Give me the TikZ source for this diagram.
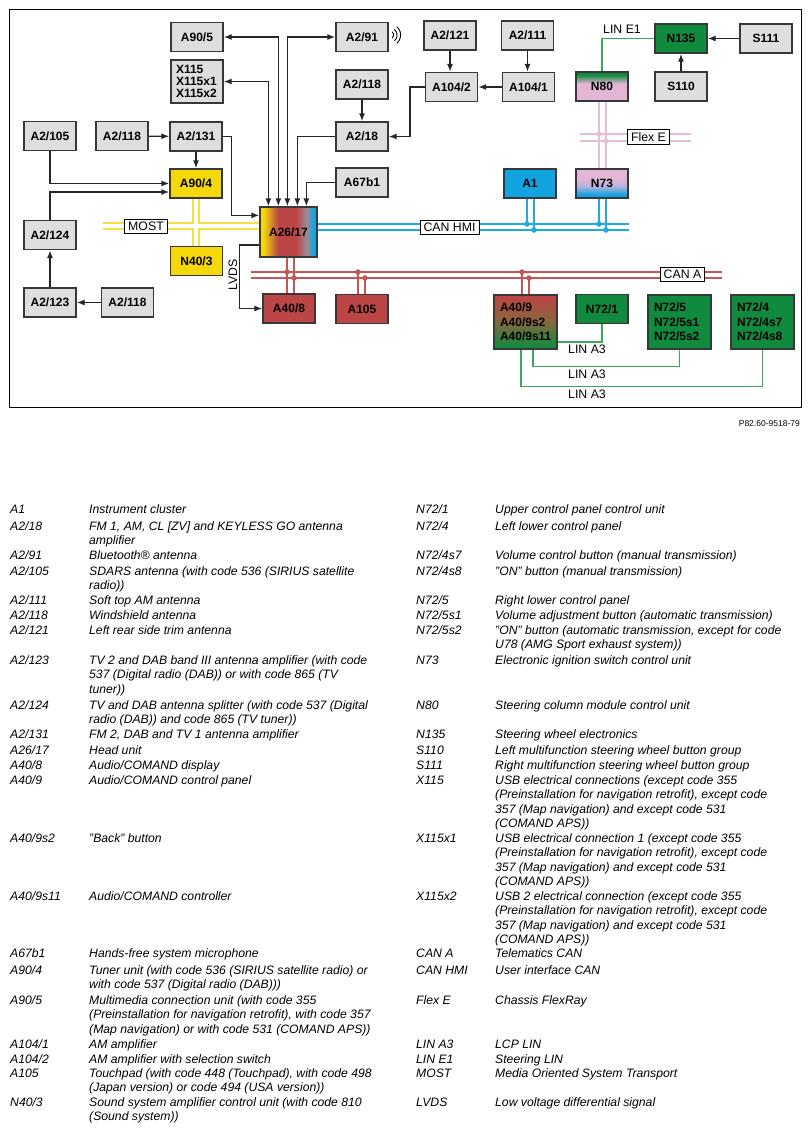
\documentclass[tikz,border=0pt]{standalone}
\usepackage{fontspec}
\setmainfont{Liberation Sans}
\usetikzlibrary{arrows.meta}

\definecolor{boxgrey}{HTML}{DEDEDE}
\definecolor{boxline}{HTML}{383838}
\definecolor{hyel}{HTML}{F4D80C}
\definecolor{hred}{HTML}{BC4545}
\definecolor{hblue}{HTML}{12A4E0}
\definecolor{hgreen}{HTML}{108A3E}
\definecolor{hpink}{HTML}{E2B6D4}
\definecolor{hlav}{HTML}{B4B2DE}
\definecolor{hgrey}{HTML}{9A8C96}
\definecolor{hbrown}{HTML}{86683E}
\definecolor{busyel}{HTML}{F6E040}
\definecolor{busred}{HTML}{C55656}
\definecolor{busblue}{HTML}{22A8E4}
\definecolor{buspink}{HTML}{E6BEDA}
\definecolor{busgreen}{HTML}{3DA85A}

\pgfdeclarehorizontalshading{headunit}{100bp}{color(0bp)=(hyel); color(28bp)=(hyel); color(41bp)=(hred); color(57bp)=(hred); color(66bp)=(hgrey); color(72bp)=(hblue); color(100bp)=(hblue)}
\pgfdeclareverticalshading{panel}{100bp}{color(0bp)=(hgreen); color(27bp)=(hgreen); color(50bp)=(hbrown); color(73bp)=(hred); color(100bp)=(hred)}
\pgfdeclareverticalshading{steering}{100bp}{color(0bp)=(hpink); color(55bp)=(hpink); color(70bp)=(hgreen); color(100bp)=(hgreen)}
\pgfdeclareverticalshading{ignition}{100bp}{color(0bp)=(hblue); color(31bp)=(hblue); color(45bp)=(hlav); color(57bp)=(hpink); color(100bp)=(hpink)}

\tikzset{
  unit/.style={draw=boxline, line width=1.3pt, minimum width=52pt, minimum height=29pt, inner sep=0pt, font=\fontsize{12}{14.5}\selectfont\bfseries},
  greyunit/.style={unit, fill=boxgrey},
  yelunit/.style={unit, fill=hyel},
  redunit/.style={unit, fill=hred},
  blueunit/.style={unit, fill=hblue},
  greenunit/.style={unit, fill=hgreen},
  multi/.style={align=left, text width=51pt, inner xsep=6pt, minimum height=54pt},
  conn/.style={line width=1.3pt, black!85, >={Latex[length=8pt,width=6pt]}},
  lin/.style={line width=1.3pt, busgreen},
  mostbus/.style={draw=busyel, line width=2pt, double=white, double distance=4.6pt},
  canred/.style={line width=2pt, busred},
  canblue/.style={line width=2.2pt, busblue},
  flexpink/.style={line width=2.3pt, buspink},
  joint/.style={circle, fill=#1, inner sep=0pt, minimum size=5.5pt},
  buslabel/.style={draw=black, fill=white, line width=0.8pt, inner xsep=3.5pt, inner ysep=3pt, font=\fontsize{12.3}{12}\selectfont},
  bustext/.style={inner sep=0pt, font=\fontsize{12.3}{12}\selectfont},
  legtext/.style={anchor=base west, inner sep=0pt, font=\fontsize{12.2}{14.5}\selectfont\itshape}
}
\newcommand{\legentry}[3]{\node[legtext] (leg-#1-#2) at (#1,#2) {\vtop{\halign{##\hfil\cr#3\crcr}}};}

\begin{document}
\begin{tikzpicture}[x=1pt, y=-1pt]
\useasboundingbox (0,0) rectangle (811,1133);
\draw[line width=0.9pt] (9.5,9.5) rectangle (801.5,407.5);

% units
\node[greyunit] (a905) at (197,37) {A90/5};
\node[greyunit, align=left, text width=42pt, inner xsep=5pt, minimum height=43pt, font=\fontsize{12}{12}\selectfont\bfseries] (x115) at (197,81.5) {X115\\X115x1\\X115x2};
\node[greyunit] (a2105) at (50,136) {A2/105};
\node[greyunit] (a2118a) at (122,136) {A2/118};
\node[greyunit] (a2131) at (196,136.5) {A2/131};
\node[yelunit] (a904) at (196,183.5) {A90/4};
\node[greyunit] (a2124) at (50,235) {A2/124};
\node[yelunit] (n403) at (196.5,261) {N40/3};
\node[greyunit] (a2123) at (50,302.5) {A2/123};
\node[greyunit] (a2118b) at (127.5,302.5) {A2/118};
\node[unit, minimum width=57pt, minimum height=50pt, shade, shading=headunit] (a2617) at (288.5,232) {A26/17};
\node[redunit] (a408) at (289,308.5) {A40/8};
\node[greyunit] (a291) at (362,37) {A2/91};
\node[greyunit] (a2121) at (450,35.5) {A2/121};
\node[greyunit] (a2111) at (527.5,35.5) {A2/111};
\node[greyunit] (a2118c) at (362,84.5) {A2/118};
\node[greyunit] (a1042) at (451.5,87) {A104/2};
\node[greyunit] (a1041) at (528.5,87) {A104/1};
\node[greyunit] (a218) at (362,136.5) {A2/18};
\node[greyunit] (a67b1) at (362,182.5) {A67b1};
\node[blueunit] (a1) at (530,183.5) {A1};
\node[redunit] (a105) at (362,309) {A105};
\node[unit, multi, shade, shading=panel] (a409) at (525.5,322) {A40/9\\A40/9s2\\A40/9s11};
\node[unit, shade, shading=steering] (n80) at (602,86.5) {N80};
\node[greenunit] (n135) at (681,38.5) {N135};
\node[greyunit] (s111) at (766,38.5) {S111};
\node[greyunit] (s110) at (681,86.5) {S110};
\node[unit, shade, shading=ignition] (n73) at (602,183.5) {N73};
\node[greenunit] (n721) at (602,309) {N72/1};
\node[greenunit, multi] (n725) at (679.5,322) {N72/5\\N72/5s1\\N72/5s2};
\node[greenunit, multi] (n724) at (762.5,322) {N72/4\\N72/4s7\\N72/4s8};

% antenna signals
\draw[conn,<->] (x115.east) -| ([xshift=9pt]a2617.north west);
\draw[conn,<->] (a905.east) -| ([xshift=19pt]a2617.north west);
\draw[conn,<->] (a291.west) -| ([xshift=28pt]a2617.north west);
\draw[conn,->] (a218.west) -| ([xshift=38pt]a2617.north west);
\draw[conn,->] (a67b1.west) -| ([xshift=47pt]a2617.north west);
\draw[conn,->] (a2131.east) -- ++(9,0) |- ([yshift=-9pt]a2617.north west);
\draw[conn,->] (a2118a) -- (a2131);
\draw[conn,->] (a2131) -- (a904);
\draw[conn,->] (a2105.south) |- (a904.west);
\draw[conn,->] (a2124.north) |- ([yshift=-8.5pt]a904.west);
\draw[conn,->] (a2123) -- (a2124);
\draw[conn,->] (a2118b) -- (a2123);
\draw[conn,->] (a2118c) -- (a218);
\draw[conn,->] (a2121.south) -- (a2121.south |- a1042.north);
\draw[conn,->] (a2111.south) -- (a2111.south |- a1041.north);
\draw[conn,->] (a1041) -- (a1042);
\draw[conn,->] (a1042.west) -- ++(-15,0) |- (a218.east);
\draw[conn,->] (s111) -- (n135);
\draw[conn,->] (s110) -- (n135);
\foreach \r in {4,7.5,11}
  \draw[line width=0.9pt] (a291.east) ++(1,-2) ++(-50:\r) arc[start angle=-50, end angle=50, radius=\r];

% LVDS
\draw[conn,->] ([yshift=-13pt]a2617.west) -- ++(-20,0) |- (a408.west);
\node[bustext, rotate=90] (lvds) at (233,275) {LVDS};

% MOST
\coordinate (mostw) at (103,226);
\draw[mostbus] (mostw) -- (mostw -| a2617.west) (a904.south) -- (a904.south |- n403.north);
\node[buslabel] (most) at (146,226.5) {MOST};

% CAN HMI
\draw[canblue] (a2617.east |- 0,224) -- (629,224) (a2617.east |- 0,230) -- (629,230);
\draw[canblue] ([xshift=-3pt]a1.south) -- ++(0,26) ([xshift=4pt]a1.south) -- ++(0,32);
\draw[canblue] ([xshift=-3pt]n73.south) -- ++(0,26) ([xshift=4pt]n73.south) -- ++(0,32);
\node[joint=busblue] (jb1) at (527,224) {};
\node[joint=busblue] (jb2) at (534,230) {};
\node[joint=busblue] (jb3) at (599,224) {};
\node[joint=busblue] (jb4) at (606,230) {};
\node[buslabel] (canhmi) at (449.5,227.5) {CAN HMI};

% Flex E
\draw[flexpink] (580,134) -- (691,134) (580,141) -- (691,141);
\draw[flexpink] ([xshift=-3pt]n80.south) -- ([xshift=-3pt]n73.north) ([xshift=4pt]n80.south) -- ([xshift=4pt]n73.north);
\node[joint=buspink] (jp1) at (599,134) {};
\node[joint=buspink] (jp2) at (606,141) {};
\node[buslabel] (flexe) at (648.5,137) {Flex E};

% CAN A
\draw[canred] (251,272) -- (722,272) (251,278) -- (722,278);
\draw[canred] ([xshift=-1.5pt]a2617.south) -- ([xshift=-2pt]a408.north) ([xshift=5.5pt]a2617.south) -- ([xshift=5pt]a408.north);
\draw[canred] ([xshift=-4pt]a105.north) -- ++(0,-23) ([xshift=3pt]a105.north) -- ++(0,-17);
\draw[canred] ([xshift=-3.5pt]a409.north) -- ++(0,-23) ([xshift=3.5pt]a409.north) -- ++(0,-17);
\foreach \jx/\jy [count=\i] in {287/272,294/278,358/272,365/278,522/272,529/278}
  \node[joint=busred] (jr\i) at (\jx,\jy) {};
\node[buslabel] (cana) at (682.5,274.5) {CAN A};

% LIN
\draw[lin] (n80.north) |- (n135.west);
\node[bustext, anchor=west] (line1) at (603,29) {LIN E1};
\draw[lin] ([yshift=-20pt]a409.east) -| (n721.south);
\draw[lin] ([xshift=7.5pt]a409.south) -- ++(0,17) -| (n725.south);
\draw[lin] ([xshift=-4.5pt]a409.south) -- ++(0,37) -| (n724.south);
\node[bustext] (lina1) at (587,349) {LIN A3};
\node[bustext] (lina2) at (587,374) {LIN A3};
\node[bustext] (lina3) at (587,394) {LIN A3};

\node[anchor=east, inner sep=0pt, font=\fontsize{8.5}{8.5}\selectfont] (ref) at (800,424) {P82.60-9518-79};

% legend, left
\legentry{10}{513}{A1}            \legentry{89}{513}{Instrument cluster}
\legentry{10}{530}{A2/18}         \legentry{89}{530}{FM 1, AM, CL [ZV] and KEYLESS GO antenna\cr amplifier}
\legentry{10}{559}{A2/91}         \legentry{89}{559}{Bluetooth® antenna}
\legentry{10}{575}{A2/105}        \legentry{89}{575}{SDARS antenna (with code 536 (SIRIUS satellite\cr radio))}
\legentry{10}{604}{A2/111}        \legentry{89}{604}{Soft top AM antenna}
\legentry{10}{619}{A2/118}        \legentry{89}{619}{Windshield antenna}
\legentry{10}{634}{A2/121}        \legentry{89}{634}{Left rear side trim antenna}
\legentry{10}{664}{A2/123}        \legentry{89}{664}{TV 2 and DAB band III antenna amplifier (with code\cr 537 (Digital radio (DAB)) or with code 865 (TV\cr tuner))}
\legentry{10}{709}{A2/124}        \legentry{89}{709}{TV and DAB antenna splitter (with code 537 (Digital\cr radio (DAB)) and code 865 (TV tuner))}
\legentry{10}{738}{A2/131}        \legentry{89}{738}{FM 2, DAB and TV 1 antenna amplifier}
\legentry{10}{754}{A26/17}        \legentry{89}{754}{Head unit}
\legentry{10}{769}{A40/8}         \legentry{89}{769}{Audio/COMAND display}
\legentry{10}{784}{A40/9}         \legentry{89}{784}{Audio/COMAND control panel}
\legentry{10}{842}{A40/9s2}       \legentry{89}{842}{"Back" button}
\legentry{10}{900}{A40/9s11}      \legentry{89}{900}{Audio/COMAND controller}
\legentry{10}{957}{A67b1}         \legentry{89}{957}{Hands-free system microphone}
\legentry{10}{974}{A90/4}         \legentry{89}{974}{Tuner unit (with code 536 (SIRIUS satellite radio) or\cr with code 537 (Digital radio (DAB)))}
\legentry{10}{1004}{A90/5}        \legentry{89}{1004}{Multimedia connection unit (with code 355\cr (Preinstallation for navigation retrofit), with code 357\cr (Map navigation) or with code 531 (COMAND APS))}
\legentry{10}{1048}{A104/1}       \legentry{89}{1048}{AM amplifier}
\legentry{10}{1063}{A104/2}       \legentry{89}{1063}{AM amplifier with selection switch}
\legentry{10}{1077}{A105}         \legentry{89}{1077}{Touchpad (with code 448 (Touchpad), with code 498\cr (Japan version) or code 494 (USA version))}
\legentry{10}{1106}{N40/3}        \legentry{89}{1106}{Sound system amplifier control unit (with code 810\cr (Sound system))}

% legend, right
\legentry{416}{513}{N72/1}        \legentry{495}{513}{Upper control panel control unit}
\legentry{416}{530}{N72/4}        \legentry{495}{530}{Left lower control panel}
\legentry{416}{559}{N72/4s7}      \legentry{495}{559}{Volume control button (manual transmission)}
\legentry{416}{575}{N72/4s8}      \legentry{495}{575}{"ON" button (manual transmission)}
\legentry{416}{604}{N72/5}        \legentry{495}{604}{Right lower control panel}
\legentry{416}{619}{N72/5s1}      \legentry{495}{619}{Volume adjustment button (automatic transmission)}
\legentry{416}{634}{N72/5s2}      \legentry{495}{634}{"ON" button (automatic transmission, except for code\cr U78 (AMG Sport exhaust system))}
\legentry{416}{664}{N73}          \legentry{495}{664}{Electronic ignition switch control unit}
\legentry{416}{709}{N80}          \legentry{495}{709}{Steering column module control unit}
\legentry{416}{738}{N135}         \legentry{495}{738}{Steering wheel electronics}
\legentry{416}{754}{S110}         \legentry{495}{754}{Left multifunction steering wheel button group}
\legentry{416}{769}{S111}         \legentry{495}{769}{Right multifunction steering wheel button group}
\legentry{416}{784}{X115}         \legentry{495}{784}{USB electrical connections (except code 355\cr (Preinstallation for navigation retrofit), except code\cr 357 (Map navigation) and except code 531\cr (COMAND APS))}
\legentry{416}{842}{X115x1}       \legentry{495}{842}{USB electrical connection 1 (except code 355\cr (Preinstallation for navigation retrofit), except code\cr 357 (Map navigation) and except code 531\cr (COMAND APS))}
\legentry{416}{900}{X115x2}       \legentry{495}{900}{USB 2 electrical connection (except code 355\cr (Preinstallation for navigation retrofit), except code\cr 357 (Map navigation) and except code 531\cr (COMAND APS))}
\legentry{416}{957}{CAN A}        \legentry{495}{957}{Telematics CAN}
\legentry{416}{974}{CAN HMI}      \legentry{495}{974}{User interface CAN}
\legentry{416}{1004}{Flex E}      \legentry{495}{1004}{Chassis FlexRay}
\legentry{416}{1048}{LIN A3}      \legentry{495}{1048}{LCP LIN}
\legentry{416}{1063}{LIN E1}      \legentry{495}{1063}{Steering LIN}
\legentry{416}{1077}{MOST}        \legentry{495}{1077}{Media Oriented System Transport}
\legentry{416}{1106}{LVDS}        \legentry{495}{1106}{Low voltage differential signal}
\end{tikzpicture}
\end{document}
